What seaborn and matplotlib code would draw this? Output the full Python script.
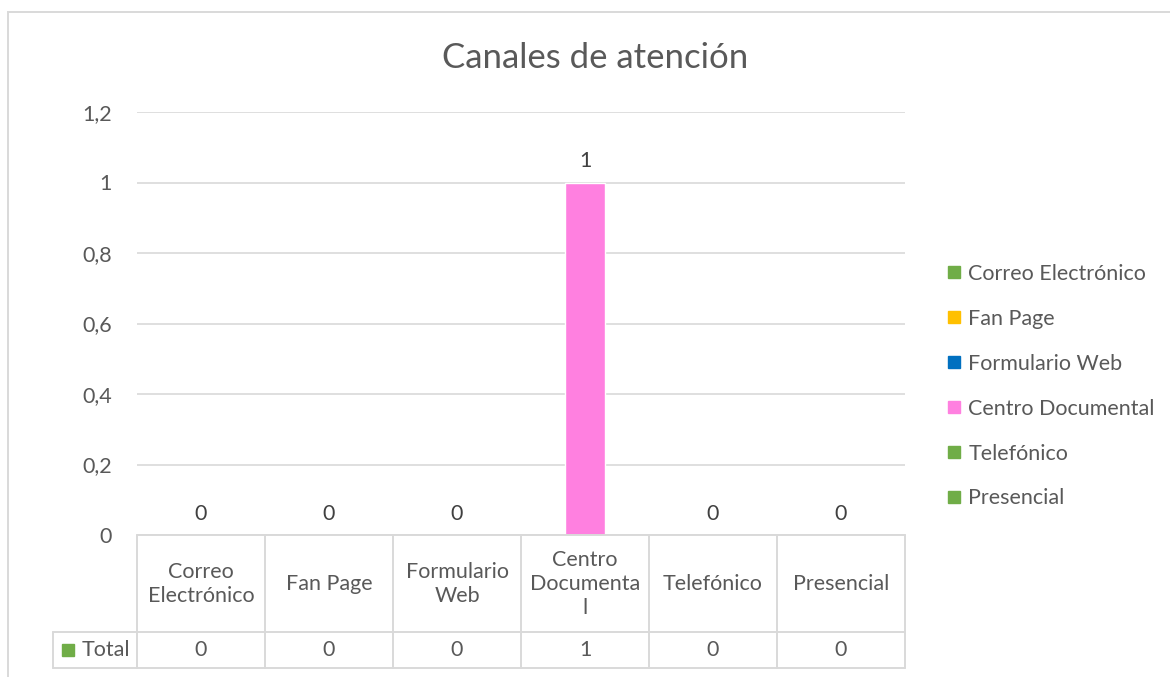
import matplotlib
matplotlib.use("Agg")
import matplotlib.pyplot as plt
from matplotlib.lines import Line2D
from matplotlib.patches import Rectangle
import seaborn as sns

CATEGORIES = ["Correo Electrónico", "Fan Page", "Formulario Web",
              "Centro Documental", "Telefónico", "Presencial"]
HEADER_LABELS = ["Correo\nElectrónico", "Fan Page", "Formulario\nWeb",
                 "Centro\nDocumenta\nl", "Telefónico", "Presencial"]
VALUES = [0, 0, 0, 1, 0, 0]
COLORS = ["#70AD47", "#FFC000", "#0070C0", "#FF80E0", "#70AD47", "#70AD47"]
Y_TICKS = [0, 0.2, 0.4, 0.6, 0.8, 1.0, 1.2]
TITLE = "Canales de atención"
ROW_LABEL = "Total"

TEXT = "#595959"
GRID = "#d9d9d9"
W, H = 1170, 677
FS = 15.5

sns.set_style("white")
plt.rcParams["font.family"] = ["Lato", "DejaVu Sans"]

fig = plt.figure(figsize=(W / 100, H / 100), dpi=100)
ax = fig.add_axes([137 / W, 1 - 535 / H, (905 - 137) / W, (535 - 112) / H])

sns.barplot(x=CATEGORIES, y=VALUES, hue=CATEGORIES, palette=COLORS,
            legend=False, width=0.32, ax=ax, saturation=1)
for cont in ax.containers:
    ax.bar_label(cont, fmt="%g", padding=8, fontsize=FS, color="#404040")

ax.set_ylim(0, 1.2)
ax.set_xlim(-0.5, len(CATEGORIES) - 0.5)
ax.set_yticks(Y_TICKS)
ax.set_yticklabels([f"{t:g}".replace(".", ",") for t in Y_TICKS],
                   fontsize=FS, color=TEXT)
ax.tick_params(axis="y", length=0, pad=18)
ax.set_xticks([])
ax.set_xlabel("")
ax.set_ylabel("")
ax.grid(axis="y", color=GRID, linewidth=1.2)
ax.set_axisbelow(True)
for s in ax.spines.values():
    s.set_visible(False)

# data table below the axis
tr = ax.get_xaxis_transform()
ax_h = 535 - 112
y_head = (535 - 632) / ax_h
y_row = (535 - 668) / ax_h
x_left_label = -0.5 - (137 - 53) / 128
n = len(CATEGORIES)
line_kw = dict(color=GRID, linewidth=1.4, transform=tr, clip_on=False)
ax.add_line(Line2D([-0.5, n - 0.5], [0, 0], **line_kw))
ax.add_line(Line2D([x_left_label, n - 0.5], [y_head, y_head], **line_kw))
ax.add_line(Line2D([x_left_label, n - 0.5], [y_row, y_row], **line_kw))
ax.add_line(Line2D([x_left_label, x_left_label], [y_head, y_row], **line_kw))
for i in range(n + 1):
    ax.add_line(Line2D([i - 0.5, i - 0.5], [0, y_row], **line_kw))
for i, (lab, v) in enumerate(zip(HEADER_LABELS, VALUES)):
    ax.text(i, y_head / 2, lab, transform=tr, ha="center", va="center",
            fontsize=FS, color=TEXT, linespacing=1.25)
    ax.text(i, (y_head + y_row) / 2, f"{v:g}", transform=tr, ha="center",
            va="center", fontsize=FS, color=TEXT)
ax.text(x_left_label + 0.22, (y_head + y_row) / 2, ROW_LABEL, transform=tr,
        ha="left", va="center", fontsize=FS, color=TEXT)
ax.plot([x_left_label + 0.12], [(y_head + y_row) / 2], marker="s",
        markersize=9, color=COLORS[0], transform=tr, clip_on=False)

# legend
handles = [Line2D([], [], linestyle="none", marker="s", markersize=9,
                  markerfacecolor=c, markeredgecolor=c) for c in COLORS]
leg = fig.legend(handles, CATEGORIES, loc="upper left",
                 bbox_to_anchor=(938 / W, 1 - 255 / H), frameon=False,
                 fontsize=FS, labelspacing=1.16, handlelength=0.7,
                 handletextpad=0.3, borderaxespad=0)
for t in leg.get_texts():
    t.set_color(TEXT)

fig.text(595 / W, 1 - 58 / H, TITLE, ha="center", va="center",
         fontsize=25, color=TEXT)

fig.add_artist(Rectangle((8 / W, -0.1), 1.2, 1.1 - 12 / H, fill=False,
                         edgecolor=GRID, linewidth=1.4,
                         transform=fig.transFigure))

fig.savefig("out.png", dpi=100)
